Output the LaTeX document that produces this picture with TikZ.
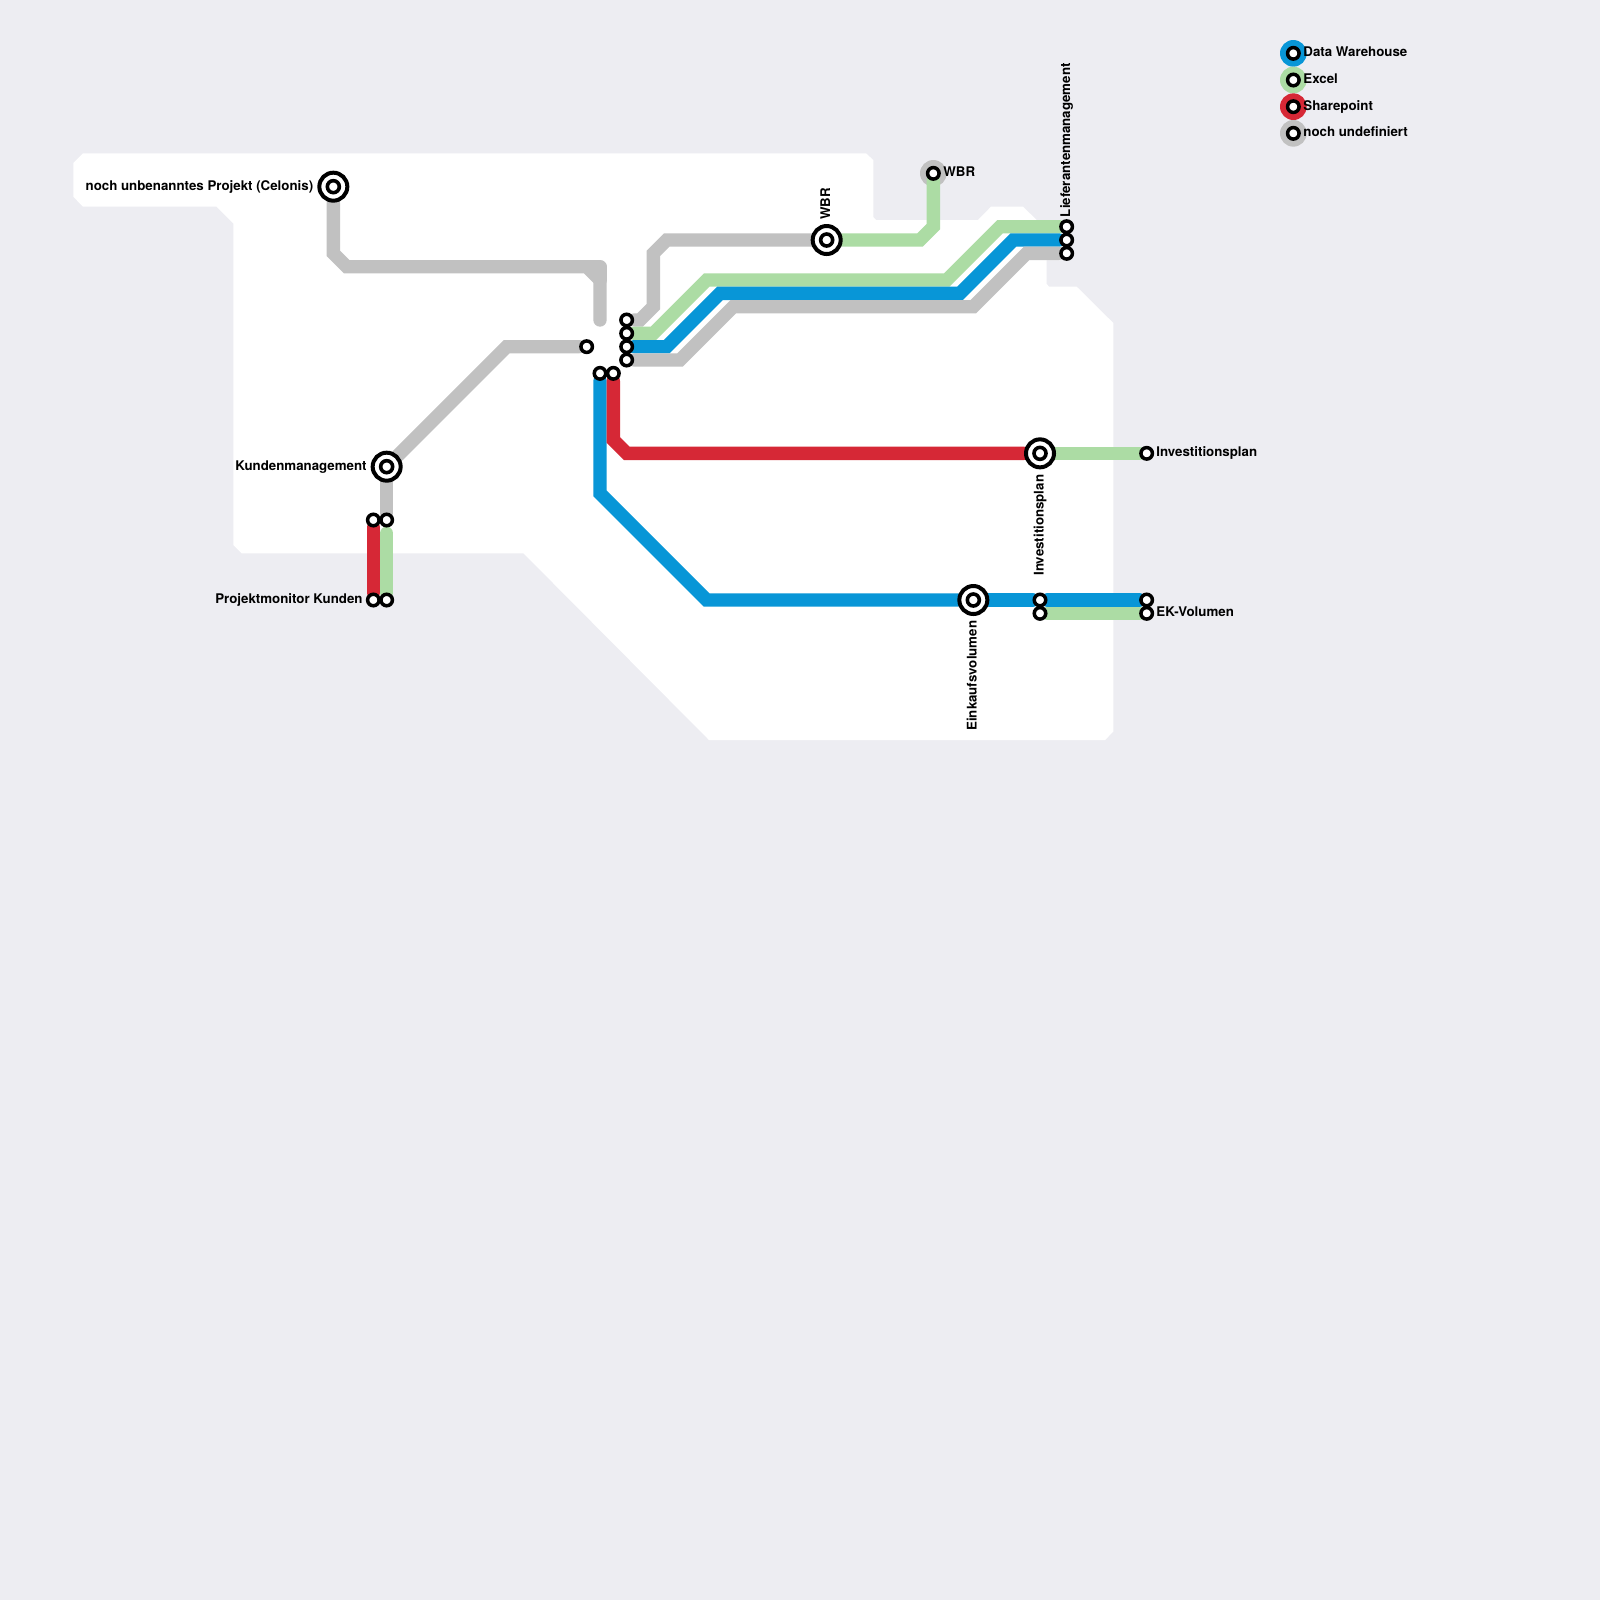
\documentclass[tikz,border=0pt]{standalone}
\usepackage{fontspec}
\setmainfont{TeX Gyre Heros}
\definecolor{bgc}{HTML}{EDEDF2}
\definecolor{dw}{HTML}{0896D7}
\definecolor{xl}{HTML}{ACDCA4}
\definecolor{sp}{HTML}{D62836}
\definecolor{un}{HTML}{C1C1C1}
\pgfdeclarelayer{back}\pgfdeclarelayer{lines}
\pgfsetlayers{back,lines,main}
\tikzset{
  px/.style={x=.5pt,y=-.5pt},
  stn/.style={circle,draw=black,fill=white,line width=1.75pt,minimum size=5.75pt,inner sep=0pt},
  bigstn/.style={circle,draw=black,fill=white,line width=2pt,minimum size=14pt,inner sep=0pt,
    path picture={\draw[black,line width=1.8pt] (path picture bounding box.center) circle (3pt);}},
  halo/.style={circle,minimum size=13.33pt,inner sep=0pt,fill=#1},
  metro/.style={line width=6.667pt,line cap=round,line join=miter,miter limit=4,draw=#1},
  lab/.style={font=\bfseries\fontsize{6.65pt}{8pt}\selectfont,inner sep=0pt,text=black},
}
\begin{document}
\begin{tikzpicture}[x=6.6667pt,y=-6.6667pt]
\useasboundingbox (0,0) rectangle (120,120);
\begin{pgfonlayer}{back}
\fill[bgc] (0,0) rectangle (120,120);
\begin{scope}[px]
\fill[white] (83,153.3) -- (866,153.3) -- (873.3,160) -- (873.3,217) -- (876,220) -- (978,220) -- (991,206.67) -- (1023,206.67) -- (1036.67,220) -- (1066,220) -- (1066,260) -- (1046.67,260) -- (1046.67,284) -- (1049,286.67) -- (1076.67,286.67) -- (1113.3,323) -- (1113.3,731.67) -- (1105,740) -- (709,740) -- (523.5,553.3) -- (241.67,553.3) -- (233.3,545) -- (233.3,223.3) -- (216.67,206.67) -- (83,206.67) -- (73.3,196.67) -- (73.3,163) -- cycle;
\end{scope}
\end{pgfonlayer}
% stations
\node[bigstn] (celonis) at (25,14) {};
\node[bigstn] (kunden) at (29,35) {};
\node[bigstn] (wbrA) at (62,18) {};
\node[bigstn] (invA) at (78,34) {};
\node[bigstn] (eink) at (73,45) {};
\node[stn] (pmA) at (28,39) {};
\node[stn] (pmB) at (29,39) {};
\node[stn] (pmC) at (28,45) {};
\node[stn] (pmD) at (29,45) {};
\node[stn] (gw) at (44,26) {};
\node[stn] (bl) at (45,28) {};
\node[stn] (rd) at (46,28) {};
\node[stn] (hA) at (47,24) {};
\node[stn] (hB) at (47,25) {};
\node[stn] (hC) at (47,26) {};
\node[stn] (hD) at (47,27) {};
\node[stn] (lA) at (80,17) {};
\node[stn] (lB) at (80,18) {};
\node[stn] (lC) at (80,19) {};
\node[stn] (wbrB) at (70,13) {};
\node[stn] (invB) at (86,34) {};
\node[stn] (ekA) at (78,45) {};
\node[stn] (ekB) at (78,46) {};
\node[stn] (ekC) at (86,45) {};
\node[stn] (ekD) at (86,46) {};
\coordinate (grayEnd) at (45,24);
\coordinate (greenTop) at (29,40);
% lines
\begin{pgfonlayer}{lines}
\node[halo=un] (wbrH) at (70,13) {};
\draw[metro=un] (celonis) -- (25,19) -- (26,20) -- (44,20) -- (45,21) -- (grayEnd);
\draw[metro=un,line join=round] (44,20) -- (45,20) -- (45,21);
\draw[metro=un] (kunden) -- (38,26) -- (gw);
\draw[metro=un] (kunden) -- (pmB);
\draw[metro=sp] (pmA) -- (pmC);
\draw[metro=xl] (greenTop) -- (pmD);
\draw[metro=dw] (bl) -- (45,37) -- (53,45) -- (eink);
\draw[metro=dw] (eink) -- (ekA);
\draw[metro=dw] (ekA) -- (ekC);
\draw[metro=xl] (ekB) -- (ekD);
\draw[metro=sp] (rd) -- (46,33) -- (47,34) -- (invA);
\draw[metro=xl] (invA) -- (invB);
\draw[metro=un] (hA) -- (48,24) -- (49,23) -- (49,19) -- (50,18) -- (wbrA);
\draw[metro=xl] (wbrA) -- (69,18) -- (70,17) -- (wbrB);
\draw[metro=xl] (hB) -- (49,25) -- (53,21) -- (71,21) -- (75,17) -- (lA);
\draw[metro=dw] (hC) -- (50,26) -- (54,22) -- (72,22) -- (76,18) -- (lB);
\draw[metro=un] (hD) -- (51,27) -- (55,23) -- (73,23) -- (77,19) -- (lC);
% legend halos
\node[halo=dw] (legA) at (97,4) {};
\node[halo=xl] (legB) at (97,6) {};
\node[halo=sp] (legC) at (97,8) {};
\node[halo=un] (legD) at (97,10) {};
\end{pgfonlayer}
\node[stn] (legAs) at (97,4) {};
\node[stn] (legBs) at (97,6) {};
\node[stn] (legCs) at (97,8) {};
\node[stn] (legDs) at (97,10) {};
% labels
\begin{scope}[px]
\node[lab,anchor=base east] (tCel) at (313.6,190) {noch unbenanntes Projekt (Celonis)};
\node[lab,anchor=base east] (tKun) at (367,470) {Kundenmanagement};
\node[lab,anchor=base east] (tPm) at (363,603.3) {Projektmonitor Kunden};
\node[lab,anchor=base west] (tWbr) at (943,176.67) {WBR};
\node[lab,anchor=base west] (tInv) at (1156,456.67) {Investitionsplan};
\node[lab,anchor=base west] (tEk) at (1156,616.67) {EK-Volumen};
\node[lab,anchor=base west,rotate=90] (tWbrV) at (830,220) {WBR};
\node[lab,anchor=base west,rotate=90] (tLief) at (1070,217.5) {Lieferantenmanagement};
\node[lab,anchor=base west,rotate=90] (tInvV) at (1043.5,576) {Investitionsplan};
\node[lab,anchor=base west,rotate=90] (tEin) at (976.5,731) {Einkaufsvolumen};
\node[lab,anchor=base west] (lgA) at (1303,56.7) {Data Warehouse};
\node[lab,anchor=base west] (lgB) at (1303,83.3) {Excel};
\node[lab,anchor=base west] (lgC) at (1303,110) {Sharepoint};
\node[lab,anchor=base west] (lgD) at (1303,136.7) {noch undefiniert};
\end{scope}
\end{tikzpicture}
\end{document}
